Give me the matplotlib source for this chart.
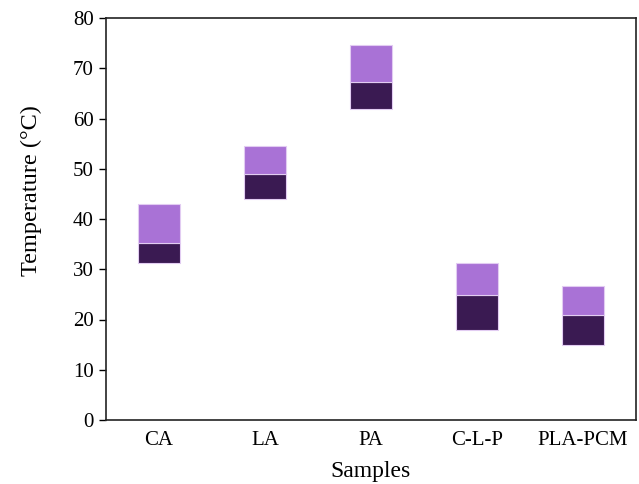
import numpy as np
import matplotlib.pyplot as plt

plt.rcParams['font.family'] = ['Liberation Serif', 'DejaVu Serif']

# data: onset / peak / end temperatures (°C)
samples = ['CA', 'LA', 'PA', 'C-L-P', 'PLA-PCM']
onset = [31.3, 44.0, 61.9, 18.0, 15.0]
peak = [35.3, 49.0, 67.3, 24.8, 20.8]
end = [43.0, 54.6, 74.7, 31.3, 26.7]

x = np.arange(len(samples))
lower = np.array(peak) - np.array(onset)
upper = np.array(end) - np.array(peak)

fig = plt.figure(figsize=(6.39, 4.84), dpi=100)
ax = fig.add_axes([106/639, 1 - 420/484, 530/639, 402/484])

ax.bar(x, lower, bottom=onset, width=0.4, color='#3a1a52', edgecolor='#e2ccf2', linewidth=0.8)
ax.bar(x, upper, bottom=peak, width=0.4, color='#a972d6', edgecolor='#e2ccf2', linewidth=0.8)

ax.set_xlim(-0.5, 4.5)
ax.set_ylim(0, 80)
ax.set_yticks(np.arange(0, 81, 10))
ax.set_xticks(x)
ax.set_xticklabels(samples)
ax.tick_params(axis='x', length=0, pad=8, labelsize=15)
ax.tick_params(axis='y', length=5, width=1, labelsize=15, pad=4, direction='out')
for s in ax.spines.values():
    s.set_linewidth(1.2)
    s.set_color('#222222')

ax.set_xlabel('Samples', fontsize=17, labelpad=8)
ax.set_ylabel('Temperature (°C)', fontsize=17.5)
ax.yaxis.set_label_coords(-0.121, 0.57)

fig.savefig('out.png', dpi=100)
